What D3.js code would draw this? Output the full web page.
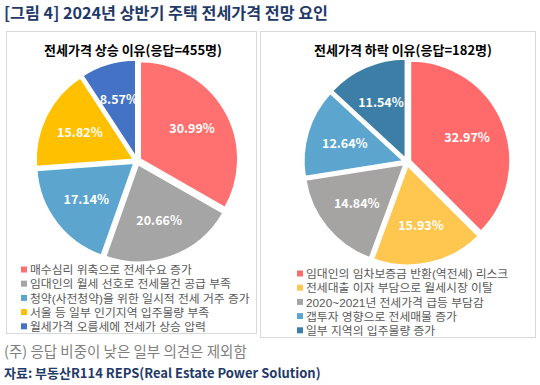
<!DOCTYPE html>
<html><head><meta charset="utf-8">
<script src="https://cdn.jsdelivr.net/npm/d3@7"></script>
<style>
html,body{margin:0;padding:0;background:#fff;}
svg{display:block;font-family:"Noto Sans CJK KR","Noto Sans",sans-serif;}
.leg{font-family:"Liberation Sans","Noto Sans CJK KR",sans-serif;}
</style></head><body>
<svg id="c" width="540" height="385"></svg>
<script>
const title = "[그림 4] 2024년 상반기 주택 전세가격 전망 요인";
const leftTitle = "전세가격 상승 이유(응답=455명)";
const leftCats = ["매수심리 위축으로 전세수요 증가","임대인의 월세 선호로 전세물건 공급 부족","청약(사전청약)을 위한 일시적 전세 거주 증가","서울 등 일부 인기지역 입주물량 부족","월세가격 오름세에 전세가 상승 압력"];
const leftValues = [30.99, 20.66, 17.14, 15.82, 8.57];
const leftColors = ["#FF7070","#A5A5A5","#5BA5CF","#FFC000","#4472C4"];
const rightTitle = "전세가격 하락 이유(응답=182명)";
const rightCats = ["임대인의 임차보증금 반환(역전세) 리스크","전세대출 이자 부담으로 월세시장 이탈","2020~2021년 전세가격 급등 부담감","갭투자 영향으로 전세매물 증가","일부 지역의 입주물량 증가"];
const rightValues = [32.97, 15.93, 14.84, 12.64, 11.54];
const rightColors = ["#FF6B6B","#FFC74F","#A6A3A3","#5BA5CF","#3D7EA6"];
const note = "(주) 응답 비중이 낮은 일부 의견은 제외함";
const source = "자료: 부동산R114 REPS(Real Estate Power Solution)";

const svg = d3.select("#c");
svg.append("text").attr("x",4).attr("y",19).attr("font-size",16.2).attr("font-weight","bold")
  .attr("fill","#1F3A68").text(title);

function panel(x0,y0,w,h,cx,cy,r,ttl,cats,vals,cols,legX,legY,legStep,legFont){
  svg.append("rect").attr("x",x0+0.5).attr("y",y0+0.5).attr("width",w).attr("height",h)
    .attr("fill","#fff").attr("stroke","#D9D9D9");
  svg.append("text").attr("x",cx-4).attr("y",y0+24).attr("text-anchor","middle")
    .attr("font-size",13).attr("font-weight","bold").attr("fill","#000").text(ttl);
  const pie = d3.pie().sort(null).value(d=>d);
  const arcs = pie(vals);
  const arc = d3.arc().innerRadius(0).outerRadius(r);
  const g = svg.append("g").attr("transform",`translate(${cx},${cy})`);
  const off = 3.5;
  g.selectAll("path").data(arcs).join("path")
    .attr("d",arc)
    .attr("transform",d=>{const a=(d.startAngle+d.endAngle)/2;return `translate(${off*Math.sin(a)},${-off*Math.cos(a)})`;})
    .attr("fill",(d,i)=>cols[i]).attr("stroke","#fff").attr("stroke-width",2);
  const lab = d3.arc().innerRadius(r*0.65).outerRadius(r*0.65);
  g.selectAll("text").data(arcs).join("text")
    .attr("transform",d=>`translate(${lab.centroid(d)})`)
    .attr("text-anchor","middle").attr("dy","0.35em")
    .attr("font-size",12.5).attr("font-weight","bold").attr("fill","#fff")
    .text(d=>d.data.toFixed(2)+"%");
  const lg = svg.append("g").attr("class","leg");
  cats.forEach((c,i)=>{
    const y = legY + i*legStep;
    lg.append("rect").attr("x",legX).attr("y",y-3.5).attr("width",6).attr("height",6).attr("fill",cols[i]);
    lg.append("text").attr("x",legX+9).attr("y",y).attr("dy","0.35em").attr("font-size",legFont)
      .attr("fill","#595959").text(c);
  });
}
panel(6,31,250,302,137,161,98,leftTitle,leftCats,leftValues,leftColors,21,270,14.2,11.8);
panel(260,31,275,306,407,162,100,rightTitle,rightCats,rightValues,rightColors,297,274,14.2,11.8);

svg.append("text").attr("x",4).attr("y",357).attr("font-size",14.5).attr("fill","#7F7F7F").text(note);
svg.append("text").attr("x",4).attr("y",378).attr("font-size",13).attr("font-weight","bold").attr("fill","#1F3A68").text(source);
</script></body></html>
